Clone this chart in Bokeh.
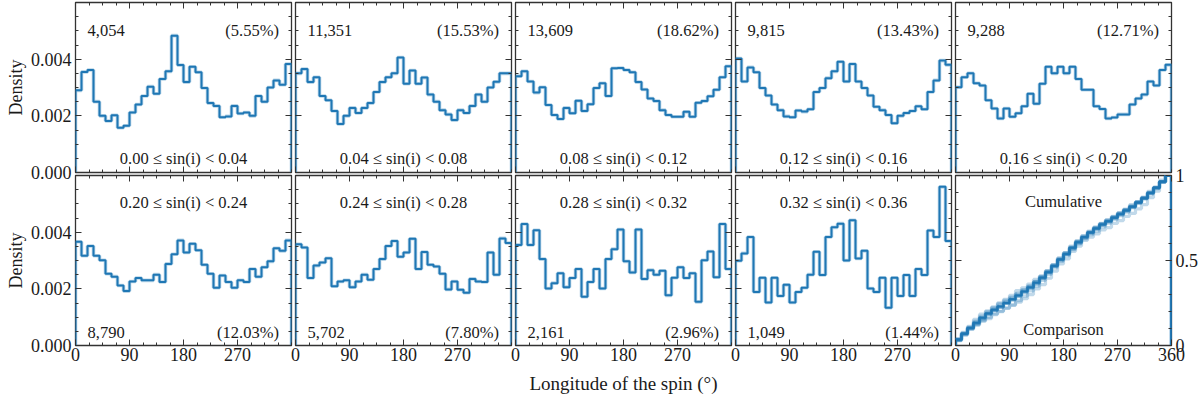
import numpy as np
from bokeh.plotting import figure
from bokeh.models import Range1d, LinearAxis, FixedTicker, NumeralTickFormatter, CustomJSTickFormatter
from bokeh.layouts import row, column
from bokeh.core.properties import value
from bokeh.embed import file_html
from bokeh.resources import INLINE

# ------------------------------------------------------------------ data
bin_edges = [0, 10, 20, 30, 40, 50, 60, 70, 80, 90, 100, 110, 120, 130, 140, 150, 160, 170, 180,
             190, 200, 210, 220, 230, 240, 250, 260, 270, 280, 290, 300, 310, 320, 330, 340, 350, 360]

sini_labels = ["0.00 ≤ sin(i) < 0.04", "0.04 ≤ sin(i) < 0.08", "0.08 ≤ sin(i) < 0.12",
               "0.12 ≤ sin(i) < 0.16", "0.16 ≤ sin(i) < 0.20", "0.20 ≤ sin(i) < 0.24",
               "0.24 ≤ sin(i) < 0.28", "0.28 ≤ sin(i) < 0.32", "0.32 ≤ sin(i) < 0.36"]
counts = [4054, 11351, 13609, 9815, 9288, 8790, 5702, 2161, 1049]
percent_labels = ["(5.55%)", "(15.53%)", "(18.62%)", "(13.43%)", "(12.71%)",
                  "(12.03%)", "(7.80%)", "(2.96%)", "(1.44%)"]

# densities per 10-degree bin, in units of 1e-3 per degree
dens_000_004 = [2.90, 3.55, 3.62, 2.50, 2.00, 1.82, 2.02, 1.58, 1.65, 2.12, 2.40, 2.70, 3.03, 2.78, 3.30, 3.57, 4.83, 3.79,
                3.19, 3.73, 3.54, 2.98, 2.45, 2.35, 1.95, 1.98, 2.35, 2.08, 2.12, 2.00, 2.70, 2.50, 3.00, 3.25, 3.10, 3.83]
dens_004_008 = [3.50, 3.65, 3.19, 3.36, 2.70, 2.55, 2.17, 1.71, 2.00, 2.28, 2.10, 2.28, 2.45, 2.84, 3.19, 3.36, 3.50, 4.06,
                3.13, 3.60, 3.13, 3.35, 2.75, 2.50, 2.20, 2.05, 1.85, 2.20, 2.10, 2.35, 2.75, 2.50, 3.00, 3.20, 3.50, 3.50]
dens_008_012 = [3.40, 3.57, 3.21, 2.82, 3.01, 2.38, 2.03, 1.89, 2.28, 2.09, 2.53, 2.17, 2.41, 2.98, 3.15, 2.70, 3.68, 3.69,
                3.62, 3.54, 3.19, 2.93, 2.61, 2.52, 2.20, 2.03, 1.97, 1.97, 2.14, 1.97, 2.46, 2.52, 2.69, 2.92, 3.36, 3.75]
dens_012_016 = [4.02, 3.21, 3.71, 3.54, 2.98, 2.72, 2.40, 2.20, 1.98, 1.95, 2.19, 2.15, 2.23, 2.84, 2.98, 3.33, 3.57, 3.91,
                3.21, 3.83, 3.21, 2.98, 2.72, 2.32, 2.20, 2.03, 1.74, 2.00, 2.10, 2.17, 2.34, 2.23, 2.84, 3.25, 3.95, 3.80]
dens_016_020 = [3.01, 3.36, 3.50, 3.15, 3.07, 2.55, 2.26, 1.91, 2.26, 1.97, 2.09, 2.34, 2.78, 2.43, 3.13, 3.73, 3.50, 3.73,
                3.50, 3.73, 3.30, 2.92, 2.92, 2.34, 2.24, 1.91, 1.94, 2.05, 2.05, 2.40, 2.61, 2.75, 3.21, 3.07, 3.62, 3.80]
dens_020_024 = [3.66, 3.17, 3.51, 3.17, 3.01, 2.53, 2.43, 2.12, 1.92, 2.26, 2.38, 2.30, 2.30, 2.50, 2.24, 2.88, 3.22, 3.71,
                3.28, 3.59, 3.36, 2.85, 2.53, 2.04, 2.47, 2.24, 2.04, 2.30, 2.24, 2.70, 2.43, 2.76, 2.97, 3.43, 3.34, 3.71]
dens_024_028 = [3.57, 3.46, 2.38, 2.82, 2.93, 3.08, 2.09, 2.26, 2.30, 2.06, 2.26, 2.50, 2.32, 2.70, 3.05, 3.51, 3.69, 3.13,
                3.28, 3.77, 2.70, 3.30, 2.85, 2.79, 2.53, 1.98, 2.26, 1.97, 1.86, 2.35, 2.26, 2.24, 3.28, 2.50, 3.78, 3.62]
dens_028_032 = [3.55, 4.29, 3.55, 4.07, 3.05, 2.01, 2.20, 2.55, 2.06, 2.38, 2.70, 1.72, 2.24, 2.70, 2.01, 3.05, 3.40, 4.09,
                2.97, 2.58, 4.09, 2.35, 2.66, 2.50, 2.64, 1.77, 2.39, 2.76, 2.38, 2.55, 1.54, 3.01, 3.32, 2.41, 4.29, 2.70]
dens_032_036 = [2.99, 3.25, 3.83, 1.89, 2.39, 1.52, 2.39, 1.75, 2.14, 1.52, 1.89, 2.04, 2.50, 3.31, 2.49, 3.83, 4.17, 4.30,
                3.00, 4.42, 3.07, 3.34, 2.01, 1.89, 2.39, 1.33, 2.39, 1.75, 2.49, 1.75, 2.70, 2.49, 4.06, 3.83, 5.60, 3.69]

all_dens = [dens_000_004, dens_004_008, dens_008_012, dens_012_016, dens_016_020,
            dens_020_024, dens_024_028, dens_028_032, dens_032_036]

x_major = [0, 90, 180, 270]
x_major_last = [0, 90, 180, 270, 360]
y_major = [0, 0.002, 0.004]
cum_major = [0, 0.5, 1]

# ------------------------------------------------------------------ style
SERIF = "Liberation Serif"
INK = "#1a1a1a"
EDGE = "#333333"
BLUE = "#1f77b4"

x_minor = list(np.arange(0, 360.1, 22.5))
y_minor = list(np.arange(0, 0.00601, 0.0005))
cum_minor = list(np.arange(0, 1.001, 0.1))

FRAME_W, FRAME_H = 216, 170


def style_axis(ax, show_labels, standoff=3):
    ax.axis_line_color = None
    ax.major_tick_in = 6
    ax.major_tick_out = 0
    ax.minor_tick_in = 3
    ax.minor_tick_out = 0
    ax.major_tick_line_color = EDGE
    ax.minor_tick_line_color = EDGE
    ax.major_tick_line_width = 1
    ax.minor_tick_line_width = 1
    if show_labels:
        ax.major_label_text_font = SERIF
        ax.major_label_text_font_size = "18px"
        ax.major_label_text_color = INK
        ax.major_label_standoff = standoff
    else:
        ax.formatter = CustomJSTickFormatter(code="return ''")
        ax.major_label_text_font_size = "0px"
        ax.major_label_standoff = 0


def outline_xy(vals):
    xs = np.repeat(np.array(bin_edges, dtype=float), 2)
    ys = np.concatenate([[0.0], np.repeat(np.asarray(vals, dtype=float), 2), [0.0]])
    return xs, ys


def make_panel(r, c, k):
    cum = (k is None)
    p = figure(frame_width=FRAME_W, frame_height=FRAME_H,
               x_range=Range1d(0, 360),
               y_range=Range1d(0, 1) if cum else Range1d(0, 0.006),
               x_axis_type=None, y_axis_type=None,
               output_backend="svg", toolbar_location=None,
               min_border_left=75 if c == 0 else 12,
               min_border_right=27 if c == 4 else 12,
               min_border_top=2 if r == 0 else 10,
               min_border_bottom=10 if r == 0 else 46,
               background_fill_color="white", border_fill_color=None,
               outline_line_color=EDGE, outline_line_width=1.3)

    # x axes
    xb = LinearAxis(ticker=FixedTicker(ticks=x_major_last if cum else x_major, minor_ticks=x_minor))
    style_axis(xb, r == 1, standoff=2)
    if r == 1 and c == 2:
        xb.axis_label = "Longitude of the spin (°)"
        xb.axis_label_text_font = SERIF
        xb.axis_label_text_font_size = "19px"
        xb.axis_label_text_font_style = "normal"
        xb.axis_label_text_color = INK
        xb.axis_label_standoff = 9
    p.add_layout(xb, "below")
    xa = LinearAxis(ticker=FixedTicker(ticks=x_major_last if cum else x_major, minor_ticks=x_minor))
    style_axis(xa, False)
    p.add_layout(xa, "above")

    # y axes
    yt = cum_major if cum else y_major
    ym = cum_minor if cum else y_minor
    yl = LinearAxis(ticker=FixedTicker(ticks=yt, minor_ticks=ym))
    style_axis(yl, c == 0, standoff=4)
    if c == 0:
        yl.formatter = NumeralTickFormatter(format="0.000")
        yl.axis_label = "Density"
        yl.axis_label_text_font = SERIF
        yl.axis_label_text_font_size = "18px"
        yl.axis_label_text_font_style = "normal"
        yl.axis_label_text_color = INK
        yl.axis_label_standoff = 2
    p.add_layout(yl, "left")
    yr = LinearAxis(ticker=FixedTicker(ticks=yt, minor_ticks=ym))
    style_axis(yr, cum, standoff=4)
    p.add_layout(yr, "right")

    tf = value(SERIF)
    ts = value("16.5px")
    if cum:
        w = np.array(counts, dtype=float)
        for d in all_dens:
            v = np.cumsum(np.array(d) * 10.0)
            v = v / v[-1]
            xs, ys = outline_xy(v)
            p.line(xs, ys, line_color=BLUE, line_width=3.2, line_alpha=0.28)
        total = sum(wi * np.array(d) for wi, d in zip(w, all_dens)) / w.sum()
        v = np.cumsum(total * 10.0)
        v = v / v[-1]
        xs, ys = outline_xy(v)
        p.line(xs, ys, line_color=BLUE, line_width=2)
        p.text(x=[180], y=[0.845], text=["Cumulative"], text_font=tf, text_font_size=ts,
               text_color=INK, text_align="center", text_baseline="alphabetic")
        p.text(x=[180], y=[0.094], text=["Comparison"], text_font=tf, text_font_size=ts,
               text_color=INK, text_align="center", text_baseline="alphabetic")
        return p

    vals = np.array(all_dens[k]) * 1e-3
    xs, ys = outline_xy(vals)
    p.line(xs, ys, line_color=BLUE, line_width=3.6, line_alpha=0.3)
    p.line(xs, ys, line_color=BLUE, line_width=2)

    if r == 0:
        y_count, y_range_lbl = 0.00502, 0.00048
    else:
        y_count, y_range_lbl = 0.00045, 0.00506
    p.text(x=[20], y=[y_count], text=[f"{counts[k]:,}"], text_font=tf, text_font_size=ts,
           text_color=INK, text_align="left", text_baseline="alphabetic")
    p.text(x=[339], y=[y_count], text=[percent_labels[k]], text_font=tf, text_font_size=ts,
           text_color=INK, text_align="right", text_baseline="alphabetic")
    p.text(x=[180], y=[y_range_lbl], text=[sini_labels[k]], text_font=tf, text_font_size=ts,
           text_color=INK, text_align="center", text_baseline="alphabetic")
    return p


figs_top = [make_panel(0, c, c) for c in range(5)]
figs_bot = [make_panel(1, c, 5 + c) if c < 4 else make_panel(1, 4, None) for c in range(5)]

for figs in (figs_top, figs_bot):
    for f in figs[1:]:
        f.margin = (0, 0, 0, -20)

top = row(*figs_top)
bottom = row(*figs_bot)
bottom.margin = (-17, 0, 0, 0)
root = column(top, bottom)
root.margin = (0, 0, 0, 0)

open("out.html", "w").write(file_html(root, INLINE))
